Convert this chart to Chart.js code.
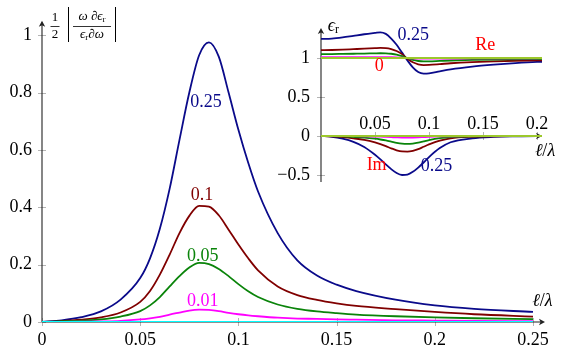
<!DOCTYPE html>
<html lang="en">
<head>
<meta charset="UTF-8" />
<title>Relative dispersion vs cell size</title>
<script src="https://cdn.jsdelivr.net/npm/chart.js"></script>
<style>
  body { margin: 0; background: #fff; }
  #wrap { position: relative; width: 565px; height: 352px; }
  #wrap canvas { position: absolute; left: 0; top: 0; }
</style>
</head>
<body>
<div id="wrap">
  <canvas id="mainChart" width="565" height="352"></canvas>
  <canvas id="insetChart" width="565" height="352"></canvas>
</div>
<script>
  // ---- main plot: 1/2 |w/eps d eps/dw| vs l/lambda ----
  const mainX = [0, 0.01, 0.02, 0.03, 0.04, 0.05, 0.055, 0.06, 0.065, 0.07, 0.075, 0.08, 0.085, 0.09,
                 0.095, 0.1, 0.105, 0.11, 0.12, 0.13, 0.14, 0.15, 0.16, 0.18, 0.2, 0.22, 0.25];
  const disp025 = [0, 0.006, 0.017, 0.037, 0.078, 0.153, 0.222, 0.325, 0.465, 0.635, 0.80, 0.93, 0.975, 0.925,
                   0.80, 0.67, 0.555, 0.455, 0.31, 0.215, 0.162, 0.13, 0.108, 0.078, 0.058, 0.046, 0.035];
  const disp01 = [0, 0.003, 0.008, 0.016, 0.033, 0.07, 0.108, 0.165, 0.235, 0.31, 0.37, 0.405, 0.402, 0.372,
                  0.322, 0.27, 0.222, 0.18, 0.124, 0.094, 0.077, 0.065, 0.056, 0.045, 0.035, 0.027, 0.019];
  const disp005 = [0, 0.002, 0.005, 0.009, 0.019, 0.038, 0.058, 0.087, 0.124, 0.16, 0.19, 0.206, 0.202, 0.185,
                   0.16, 0.132, 0.107, 0.087, 0.061, 0.046, 0.037, 0.031, 0.026, 0.02, 0.016, 0.013, 0.01];
  const disp001 = [0, 0.0003, 0.001, 0.002, 0.004, 0.009, 0.013, 0.018, 0.026, 0.033, 0.04, 0.043, 0.042, 0.038,
                   0.032, 0.027, 0.023, 0.02, 0.015, 0.012, 0.011, 0.009, 0.008, 0.006, 0.005, 0.004, 0.003];
  const disp0 = [0, 0, 0, 0, 0, 0, 0, 0, 0, 0, 0, 0, 0, 0, 0, 0, 0, 0, 0, 0, 0, 0, 0, 0, 0, 0, 0];
  const mainXTicks = [0, 0.05, 0.1, 0.15, 0.2, 0.25];
  const mainYTicks = [0, 0.2, 0.4, 0.6, 0.8, 1];

  // ---- inset: Re and Im of eps_r ----
  const insetX = [0, 0.01, 0.02, 0.03, 0.04, 0.05, 0.055, 0.06, 0.065, 0.07, 0.075, 0.08, 0.085, 0.09,
                  0.095, 0.1, 0.11, 0.12, 0.14, 0.16, 0.18, 0.2, 0.205];
  const re025 = [1.245, 1.25, 1.265, 1.285, 1.305, 1.322, 1.33, 1.31, 1.25, 1.17, 1.07, 0.97, 0.88, 0.82,
                 0.8, 0.803, 0.83, 0.855, 0.89, 0.915, 0.935, 0.95, 0.952];
  const re01 = [1.10, 1.103, 1.108, 1.114, 1.12, 1.127, 1.13, 1.128, 1.115, 1.09, 1.05, 0.99, 0.945, 0.92,
                0.91, 0.912, 0.922, 0.933, 0.948, 0.958, 0.965, 0.97, 0.971];
  const re005 = [1.05, 1.051, 1.053, 1.055, 1.057, 1.06, 1.061, 1.06, 1.055, 1.045, 1.025, 0.997, 0.975, 0.962,
                 0.957, 0.958, 0.963, 0.968, 0.976, 0.981, 0.984, 0.987, 0.988];
  const re001 = [1.01, 1.01, 1.011, 1.011, 1.011, 1.012, 1.012, 1.012, 1.011, 1.009, 1.005, 0.999, 0.995, 0.992,
                 0.991, 0.991, 0.992, 0.993, 0.995, 0.996, 0.997, 0.997, 0.998];
  const re0 = [1, 1, 1, 1, 1, 1, 1, 1, 1, 1, 1, 1, 1, 1, 1, 1, 1, 1, 1, 1, 1, 1, 1];
  const im025 = [0, -0.01, -0.035, -0.075, -0.14, -0.24, -0.3, -0.365, -0.425, -0.475, -0.5, -0.495, -0.46, -0.405,
                 -0.34, -0.27, -0.155, -0.08, -0.03, -0.012, -0.005, -0.002, -0.002];
  const im01 = [0, -0.005, -0.015, -0.03, -0.05, -0.083, -0.105, -0.13, -0.158, -0.183, -0.198, -0.2, -0.19, -0.168,
                -0.138, -0.108, -0.06, -0.03, -0.01, -0.004, -0.002, -0.001, -0.001];
  const im005 = [0, -0.002, -0.006, -0.012, -0.02, -0.035, -0.045, -0.057, -0.072, -0.088, -0.099, -0.102, -0.097, -0.085,
                 -0.068, -0.052, -0.028, -0.014, -0.005, -0.002, -0.001, 0, 0];
  const im001 = [0, 0, -0.001, -0.002, -0.004, -0.007, -0.009, -0.012, -0.015, -0.018, -0.02, -0.02, -0.019, -0.017,
                 -0.014, -0.011, -0.006, -0.003, -0.001, 0, 0, 0, 0];
  const im0 = [0, 0, 0, 0, 0, 0, 0, 0, 0, 0, 0, 0, 0, 0, 0, 0, 0, 0, 0, 0, 0, 0, 0];
  const insetXTicks = [0.05, 0.1, 0.15, 0.2];
  const insetYTicks = [-0.5, 0, 0.5, 1];

  const NAVY = '#0a0a8a', DRED = '#800000', DGREEN = '#0a840a', MAG = '#ff00ff', CYAN = '#00ffff', LIME = '#9cc82c';
  const SERIF = '"Liberation Serif", "Times New Roman", "DejaVu Serif", serif';

  function fmt(v) { return (v < 0 ? '\u2212' : '') + String(Math.abs(v)); }

  function series(label, xs, ys, color) {
    return {
      label: label,
      data: xs.map((x, i) => ({ x: x, y: ys[i] })),
      borderColor: color,
      borderWidth: 1.8,
      pointRadius: 0,
      fill: false,
      cubicInterpolationMode: 'monotone'
    };
  }

  function arrowHead(ctx, x, y, dir) {
    // small stealth-like arrow, dir: 'up' or 'right'
    ctx.beginPath();
    if (dir === 'up') {
      ctx.moveTo(x, y); ctx.lineTo(x - 3.2, y + 6); ctx.lineTo(x, y + 4.5); ctx.lineTo(x + 3.2, y + 6);
    } else {
      ctx.moveTo(x, y); ctx.lineTo(x - 6, y - 3.2); ctx.lineTo(x - 4.5, y); ctx.lineTo(x - 6, y + 3.2);
    }
    ctx.closePath();
    ctx.fill();
  }

  // draw a list of text runs centred on (cx, cy)
  function runs(ctx, parts, cx, cy, color) {
    ctx.save();
    ctx.fillStyle = color || '#000';
    ctx.textBaseline = 'middle';
    ctx.textAlign = 'left';
    let w = 0;
    parts.forEach(p => { ctx.font = p.f; w += ctx.measureText(p.t).width; });
    let x = cx - w / 2;
    parts.forEach(p => {
      ctx.font = p.f;
      ctx.fillText(p.t, x, cy + (p.dy || 0));
      x += ctx.measureText(p.t).width;
    });
    ctx.restore();
  }

  function text(ctx, t, x, y, color, font, align) {
    ctx.save();
    ctx.fillStyle = color;
    ctx.font = font || ('18px ' + SERIF);
    ctx.textAlign = align || 'center';
    ctx.textBaseline = 'middle';
    ctx.fillText(t, x, y);
    ctx.restore();
  }

  const lOverLambda = [
    { t: '\u2113', f: 'italic 18px ' + SERIF },
    { t: '/', f: '18px ' + SERIF },
    { t: '\u03bb', f: 'italic 18px ' + SERIF }
  ];

  const mainDeco = {
    id: 'mainDeco',
    beforeDatasetsDraw(chart) {
      const { ctx, chartArea: a, scales: { x, y } } = chart;
      ctx.save();
      ctx.strokeStyle = '#b4b4b4';
      ctx.lineWidth = 1;
      mainXTicks.forEach(v => {
        const px = Math.round(x.getPixelForValue(v)) + 0.5;
        ctx.beginPath(); ctx.moveTo(px, a.bottom - 4); ctx.lineTo(px, a.bottom + 4); ctx.stroke();
      });
      mainYTicks.forEach(v => {
        const py = Math.round(y.getPixelForValue(v)) + 0.5;
        ctx.beginPath(); ctx.moveTo(a.left - 4, py); ctx.lineTo(a.left + 4, py); ctx.stroke();
      });
      ctx.strokeStyle = '#222';
      ctx.fillStyle = '#222';
      ctx.lineWidth = 1.1;
      const x0 = x.getPixelForValue(0), y0 = y.getPixelForValue(0);
      ctx.beginPath(); ctx.moveTo(x0, y0); ctx.lineTo(a.right - 2, y0); ctx.stroke();
      arrowHead(ctx, a.right, y0, 'right');
      ctx.beginPath(); ctx.moveTo(x0, a.bottom); ctx.lineTo(x0, a.top + 2); ctx.stroke();
      arrowHead(ctx, x0, a.top, 'up');
      ctx.restore();
    },
    afterDraw(chart) {
      const { ctx, scales: { x, y } } = chart;
      text(ctx, '0.25', x.getPixelForValue(0.0835), y.getPixelForValue(0.767), NAVY);
      text(ctx, '0.1', x.getPixelForValue(0.0815), y.getPixelForValue(0.443), DRED);
      text(ctx, '0.05', x.getPixelForValue(0.0818), y.getPixelForValue(0.23), DGREEN);
      text(ctx, '0.01', x.getPixelForValue(0.0818), y.getPixelForValue(0.071), MAG);
      runs(ctx, lOverLambda, x.getPixelForValue(0.2548), y.getPixelForValue(0.074), '#000');

      // y-axis label: 1/2 | w d eps_r / eps_r d w |
      ctx.save();
      ctx.strokeStyle = '#000';
      ctx.lineWidth = 0.8;
      text(ctx, '1', 55, 18, '#000', '13px ' + SERIF);
      text(ctx, '2', 55, 35, '#000', '13px ' + SERIF);
      ctx.beginPath(); ctx.moveTo(50.5, 26.5); ctx.lineTo(59.5, 26.5); ctx.stroke();
      ctx.lineWidth = 1;
      ctx.beginPath(); ctx.moveTo(68.5, 7); ctx.lineTo(68.5, 42); ctx.stroke();
      ctx.beginPath(); ctx.moveTo(115.5, 7); ctx.lineTo(115.5, 42); ctx.stroke();
      ctx.lineWidth = 0.8;
      ctx.beginPath(); ctx.moveTo(73, 26.5); ctx.lineTo(111, 26.5); ctx.stroke();
      ctx.restore();
      runs(ctx, [
        { t: '\u03c9 \u2202', f: 'italic 13px ' + SERIF },
        { t: '\u03f5', f: 'italic 13px ' + SERIF },
        { t: 'r', f: '9px ' + SERIF, dy: 3 }
      ], 92, 17, '#000');
      runs(ctx, [
        { t: '\u03f5', f: 'italic 13px ' + SERIF },
        { t: 'r', f: '9px ' + SERIF, dy: 3 },
        { t: '\u2202\u03c9', f: 'italic 13px ' + SERIF }
      ], 92, 35, '#000');
    }
  };

  new Chart(document.getElementById('mainChart'), {
    type: 'line',
    data: {
      datasets: [
        series('0', mainX, disp0, CYAN),
        series('0.01', mainX, disp001, MAG),
        series('0.05', mainX, disp005, DGREEN),
        series('0.1', mainX, disp01, DRED),
        series('0.25', mainX, disp025, NAVY)
      ]
    },
    options: {
      responsive: false,
      animation: false,
      layout: { padding: { top: 11, right: 20, left: 0, bottom: 0 } },
      plugins: { legend: { display: false }, tooltip: { enabled: false } },
      scales: {
        x: {
          type: 'linear', min: 0, max: 0.2561,
          grid: { display: false, drawTicks: false },
          border: { display: false },
          afterBuildTicks: s => { s.ticks = mainXTicks.map(v => ({ value: v })); },
          afterFit: s => { s.height = 30; },
          ticks: { padding: 7, color: '#000', font: { family: SERIF, size: 18 }, maxRotation: 0, autoSkip: false, callback: v => fmt(v) }
        },
        y: {
          type: 'linear', min: 0, max: 1.05,
          grid: { display: false, drawTicks: false },
          border: { display: false },
          afterBuildTicks: s => { s.ticks = mainYTicks.map(v => ({ value: v })); },
          afterFit: s => { s.width = 42; },
          ticks: { padding: 10, color: '#000', font: { family: SERIF, size: 18 }, autoSkip: false, callback: v => fmt(v) }
        }
      }
    },
    plugins: [mainDeco]
  });

  const insetDeco = {
    id: 'insetDeco',
    beforeDatasetsDraw(chart) {
      const { ctx, chartArea: a, scales: { x, y } } = chart;
      const x0 = x.getPixelForValue(0), y0 = y.getPixelForValue(0);
      ctx.save();
      ctx.strokeStyle = '#b4b4b4';
      ctx.lineWidth = 1;
      insetXTicks.forEach(v => {
        const px = Math.round(x.getPixelForValue(v)) + 0.5;
        ctx.beginPath(); ctx.moveTo(px, y0 - 4); ctx.lineTo(px, y0 + 4); ctx.stroke();
      });
      insetYTicks.forEach(v => {
        const py = Math.round(y.getPixelForValue(v)) + 0.5;
        ctx.beginPath(); ctx.moveTo(x0 - 4, py); ctx.lineTo(x0 + 4, py); ctx.stroke();
      });
      ctx.strokeStyle = '#222';
      ctx.fillStyle = '#222';
      ctx.lineWidth = 1.1;
      ctx.beginPath(); ctx.moveTo(x0, y0); ctx.lineTo(a.right - 2, y0); ctx.stroke();
      arrowHead(ctx, a.right, y0, 'right');
      ctx.beginPath(); ctx.moveTo(x0, a.bottom); ctx.lineTo(x0, a.top + 2); ctx.stroke();
      arrowHead(ctx, x0, a.top, 'up');
      ctx.restore();
    },
    afterDraw(chart) {
      const { ctx, scales: { x, y } } = chart;
      const x0 = x.getPixelForValue(0), y0 = y.getPixelForValue(0);
      insetXTicks.forEach(v => text(ctx, fmt(v), x.getPixelForValue(v), y0 - 12, '#000'));
      insetYTicks.forEach(v => text(ctx, fmt(v), x0 - 11, y.getPixelForValue(v), '#000', '18px ' + SERIF, 'right'));
      runs(ctx, [
        { t: '\u03f5', f: 'italic 18px ' + SERIF },
        { t: 'r', f: '12px ' + SERIF, dy: 4 }
      ], x.getPixelForValue(0.0114), y.getPixelForValue(1.41), '#000');
      text(ctx, '0.25', x.getPixelForValue(0.0855), y.getPixelForValue(1.295), NAVY);
      text(ctx, 'Re', x.getPixelForValue(0.152), y.getPixelForValue(1.167), '#ff0000');
      text(ctx, '0', x.getPixelForValue(0.054), y.getPixelForValue(0.897), '#ff0000');
      text(ctx, 'Im', x.getPixelForValue(0.0515), y.getPixelForValue(-0.372), '#ff0000');
      text(ctx, '0.25', x.getPixelForValue(0.107), y.getPixelForValue(-0.393), NAVY);
      runs(ctx, lOverLambda, x.getPixelForValue(0.2074), y.getPixelForValue(-0.2), '#000');
    }
  };

  new Chart(document.getElementById('insetChart'), {
    type: 'line',
    data: {
      datasets: [
        series('Re 0', insetX, re0, LIME),
        series('Im 0', insetX, im0, LIME),
        series('Re 0.01', insetX, re001, MAG),
        series('Im 0.01', insetX, im001, MAG),
        series('Re 0.05', insetX, re005, DGREEN),
        series('Im 0.05', insetX, im005, DGREEN),
        series('Re 0.1', insetX, re01, DRED),
        series('Im 0.1', insetX, im01, DRED),
        series('Re 0.25', insetX, re025, NAVY),
        series('Im 0.25', insetX, im025, NAVY)
      ]
    },
    options: {
      responsive: false,
      animation: false,
      layout: { padding: { top: 28, right: 23, left: 321, bottom: 170 } },
      plugins: { legend: { display: false }, tooltip: { enabled: false } },
      scales: {
        x: { type: 'linear', min: 0, max: 0.2046, display: false },
        y: { type: 'linear', min: -0.59, max: 1.385, display: false }
      }
    },
    plugins: [insetDeco]
  });
</script>
</body>
</html>
